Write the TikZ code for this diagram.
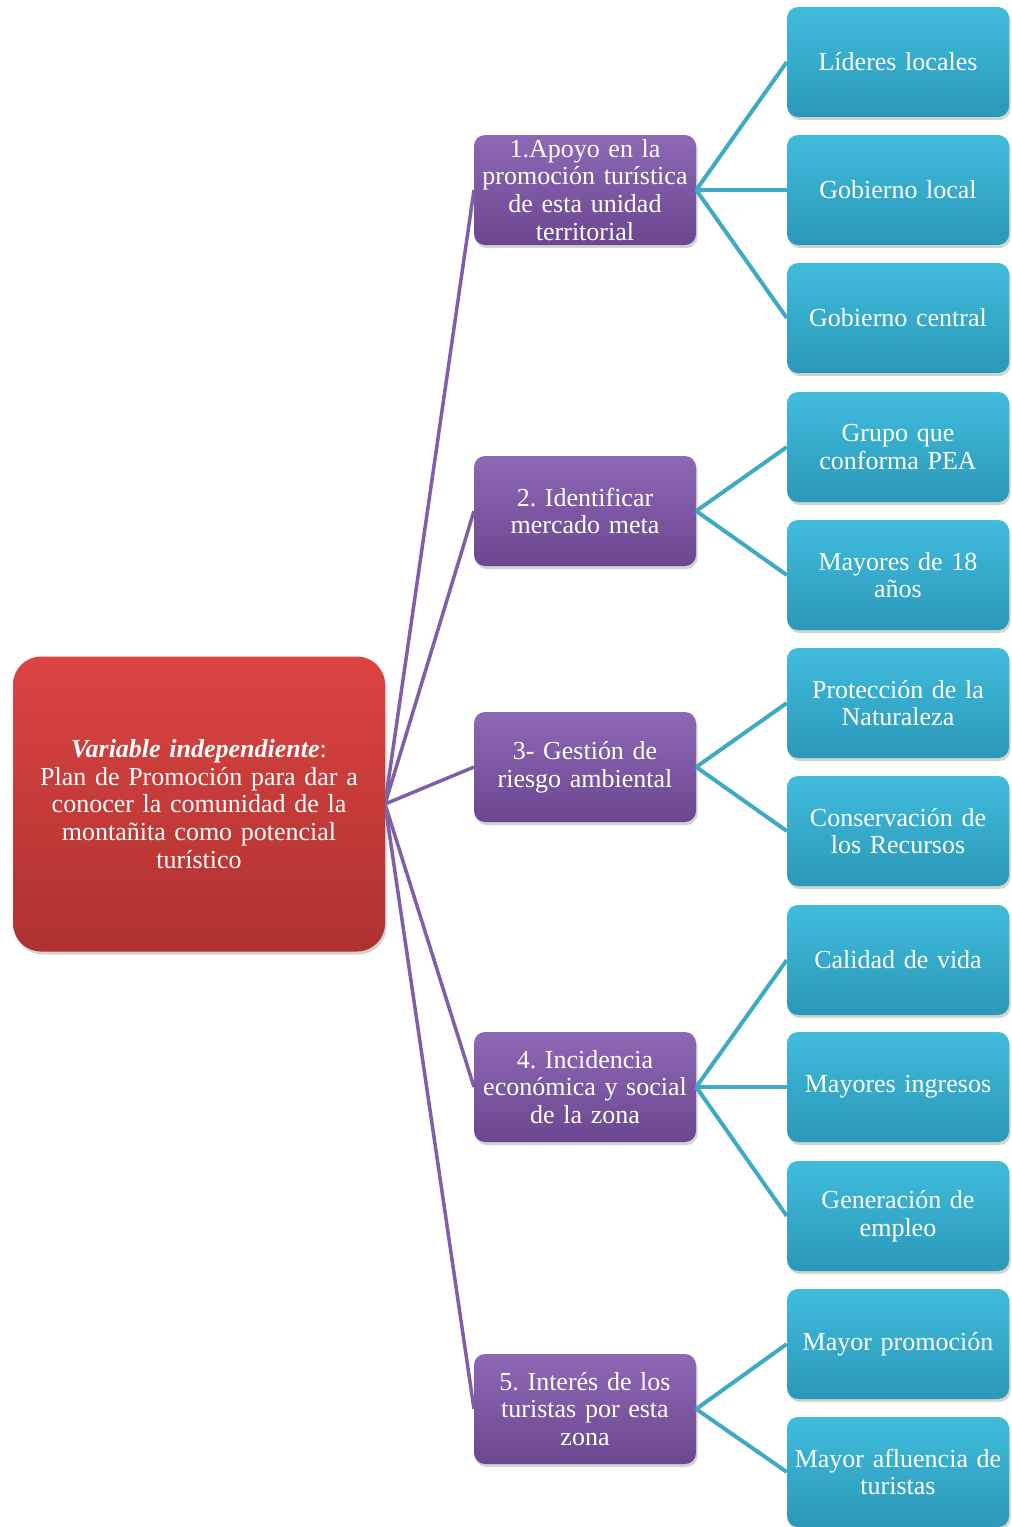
\documentclass[tikz,border=0pt]{standalone}
\usepackage{fontspec}
\setmainfont{Liberation Serif}
\usetikzlibrary{shadows}
\definecolor{redtop}{HTML}{DC4442}
\definecolor{redbot}{HTML}{AE3230}
\definecolor{purtop}{HTML}{8D68B5}
\definecolor{purbot}{HTML}{6B4791}
\definecolor{blutop}{HTML}{40BCDD}
\definecolor{blubot}{HTML}{2B98B8}
\definecolor{purline}{HTML}{7E5FA8}
\definecolor{bluline}{HTML}{3FAAC6}
\tikzset{
  base/.style={draw=none, text=white, align=center, rounded corners=11pt, inner sep=1pt,
    font=\frenchspacing\fontsize{26}{27.8}\selectfont,
    drop shadow={opacity=0.35, shadow xshift=1.5pt, shadow yshift=-3pt}},
  mainbox/.style={base, top color=redtop, bottom color=redbot, rounded corners=28pt,
    minimum width=372pt, minimum height=295pt, text width=366pt},
  catbox/.style={base, top color=purtop, bottom color=purbot,
    minimum width=222pt, minimum height=110pt, text width=220pt},
  leafbox/.style={base, top color=blutop, bottom color=blubot,
    minimum width=222pt, minimum height=110pt, text width=220pt},
  pline/.style={draw=purline, line width=3.5pt},
  bline/.style={draw=bluline, line width=4pt}
}
\begin{document}
\begin{tikzpicture}[x=1pt,y=-1pt]
\useasboundingbox (0,0) rectangle (1012,1527);
\coordinate (rE) at (385,804);
\foreach \y/\n in {190/a,511/b,767/c,1087/d,1409/e}{\coordinate (pw\n) at (474,\y);}
\draw[pline] (rE) -- (pwa);
\draw[pline] (rE) -- (pwb);
\draw[pline] (rE) -- (pwc);
\draw[pline] (rE) -- (pwd);
\draw[pline] (rE) -- (pwe);
\node[mainbox] (main) at (199,804) {\textbf{\textit{Variable independiente}}:\\Plan de Promoción para dar a\\conocer la comunidad de la\\montañita como potencial\\turístico};
\node[catbox] (p1) at (585,190) {1.Apoyo en la\\promoción turística\\de esta unidad\\territorial};
\node[catbox] (p2) at (585,511) {2. Identificar\\mercado meta};
\node[catbox] (p3) at (585,767) {3- Gestión de\\riesgo ambiental};
\node[catbox] (p4) at (585,1087) {4. Incidencia\\económica y social\\de la zona};
\node[catbox] (p5) at (585,1409) {5. Interés de los\\turistas por esta\\zona};
\node[leafbox] (l1) at (898,62) {Líderes locales};
\node[leafbox] (l2) at (898,190) {Gobierno local};
\node[leafbox] (l3) at (898,318) {Gobierno central};
\node[leafbox] (l4) at (898,447) {Grupo que\\conforma PEA};
\node[leafbox] (l5) at (898,575) {Mayores de 18\\años};
\node[leafbox] (l6) at (898,703) {Protección de la\\Naturaleza};
\node[leafbox] (l7) at (898,831) {Conservación de\\los Recursos};
\node[leafbox] (l8) at (898,960) {Calidad de vida};
\node[leafbox] (l9) at (898,1087) {Mayores ingresos};
\node[leafbox] (l10) at (898,1216) {Generación de\\empleo};
\node[leafbox] (l11) at (898,1344) {Mayor promoción};
\node[leafbox] (l12) at (898,1472) {Mayor afluencia de\\turistas};
\draw[bline] (p1.east) -- (l1.west);
\draw[bline] (p1.east) -- (l2.west);
\draw[bline] (p1.east) -- (l3.west);
\draw[bline] (p2.east) -- (l4.west);
\draw[bline] (p2.east) -- (l5.west);
\draw[bline] (p3.east) -- (l6.west);
\draw[bline] (p3.east) -- (l7.west);
\draw[bline] (p4.east) -- (l8.west);
\draw[bline] (p4.east) -- (l9.west);
\draw[bline] (p4.east) -- (l10.west);
\draw[bline] (p5.east) -- (l11.west);
\draw[bline] (p5.east) -- (l12.west);
\end{tikzpicture}
\end{document}
